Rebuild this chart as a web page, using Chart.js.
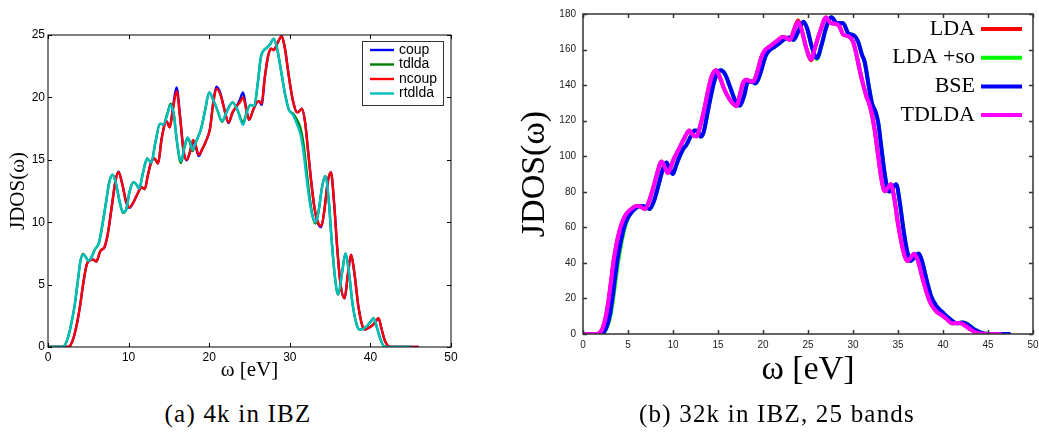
<!DOCTYPE html>
<html>
<head>
<meta charset="utf-8">
<script src="https://cdn.jsdelivr.net/npm/chart.js@4.4.0/dist/chart.umd.min.js"></script>
<style>
  body { margin: 0; background: #fff; }
  #page { position: relative; width: 1039px; height: 432px; overflow: hidden; background: #fff; }
  canvas { position: absolute; top: 0; }
  #jdos4k { left: 0; }
  #jdos32k { left: 510px; }
  .caption { position: absolute; top: 399px; font-size: 25px; letter-spacing: 1.2px; line-height: 30px;
             font-family: "Liberation Serif", "Times New Roman", serif;
             color: #000; white-space: nowrap; transform: translateX(-50%); }
</style>
</head>
<body>
<div id="page">
  <canvas id="jdos4k" width="470" height="395"></canvas>
  <canvas id="jdos32k" width="529" height="400"></canvas>
  <div class="caption" style="left:238px">(a) 4k in IBZ</div>
  <div class="caption" style="left:777px">(b) 32k in IBZ, 25 bands</div>
</div>
<script>
// ---- (a) 4k in IBZ : [omega (eV), JDOS] ----
const coup = [
  [0,0],[2.4,0],[2.8,0.15],[3.2,0.8],[3.6,1.9],[4.0,3.4],[4.4,5.2],[4.8,6.6],[5.2,6.95],[5.6,7.0],[6.0,6.85],
  [6.5,7.7],[7.0,8.0],[7.4,9.0],[7.9,11.2],[8.4,13.4],[8.75,14.05],[9.2,13.1],[9.7,11.6],[10.1,11.15],[10.6,11.6],
  [11.2,12.4],[11.6,12.8],[12.0,12.65],[12.4,13.8],[12.8,14.8],[13.2,15.1],[13.65,14.7],[14.1,16.7],[14.7,18.1],
  [15.1,17.6],[15.5,19.2],[15.95,20.8],[16.4,18.4],[16.8,15.8],[17.2,14.95],[17.6,15.6],[18.0,16.5],[18.3,16.1],
  [18.7,15.3],[19.1,15.8],[19.6,16.5],[20.1,17.5],[20.5,19.6],[20.9,20.85],[21.4,20.3],[21.9,19.0],[22.4,17.95],
  [22.9,18.8],[23.4,19.3],[23.8,19.8],[24.2,20.4],[24.6,19.1],[24.95,18.2],[25.4,18.9],[25.8,19.5],[26.2,19.7],
  [26.5,19.4],[26.9,21.6],[27.3,23.3],[27.7,23.9],[28.0,23.8],[28.5,24.4],[29.0,24.9],[29.4,23.9],[29.9,21.6],
  [30.4,19.7],[30.9,18.8],[31.2,18.9],[31.5,19.1],[31.9,18.0],[32.3,15.5],[32.7,13.0],[33.1,11.0],[33.5,9.9],
  [33.9,9.6],[34.3,11.0],[34.7,13.2],[35.1,14.0],[35.5,11.5],[35.9,7.8],[36.3,5.0],[36.8,3.9],[37.2,5.8],[37.6,7.4],
  [38.0,6.0],[38.5,3.3],[39.0,1.7],[39.35,1.4],[39.8,1.55],[40.3,1.75],[40.7,2.1],[41.0,2.3],[41.4,1.4],[41.8,0.5],
  [42.3,0.05],[43,0],[46,0]
];
const tdlda = [
  [0,0],[1.7,0],[2.1,0.15],[2.5,0.8],[2.9,1.9],[3.3,3.3],[3.7,5.3],[4.0,6.8],[4.35,7.45],[4.7,7.2],[5.0,6.9],
  [5.4,7.2],[5.8,7.8],[6.3,8.3],[6.7,9.6],[7.2,11.6],[7.6,13.2],[8.0,13.8],[8.4,13.2],[8.9,11.6],[9.3,10.75],
  [9.7,11.0],[10.1,12.4],[10.6,13.2],[11.0,13.0],[11.3,12.7],[11.8,14.0],[12.3,15.1],[12.8,14.75],[13.3,16.3],
  [13.9,17.9],[14.3,17.8],[14.8,18.7],[15.2,19.5],[15.6,18.7],[16.0,16.4],[16.5,14.75],[16.9,15.9],[17.3,16.7],
  [17.6,16.4],[17.9,15.7],[18.4,16.5],[19.0,17.5],[19.5,19.0],[20.0,20.4],[20.5,19.8],[21.0,19.0],[21.6,18.05],
  [22.2,18.9],[22.9,19.6],[23.5,19.0],[24.2,18.0],[24.7,18.9],[25.1,19.4],[25.6,19.3],[26.0,21.0],[26.4,23.2],
  [26.8,23.8],[27.2,24.0],[27.6,24.3],[28.0,24.7],[28.4,24.0],[28.9,22.2],[29.4,20.3],[29.9,19.0],[30.4,18.7],
  [30.8,18.3],[31.3,17.6],[31.7,16.3],[32.1,14.0],[32.5,11.8],[32.9,10.3],[33.2,9.9],[33.6,11.0],[34.0,12.8],
  [34.4,13.7],[34.8,12.0],[35.2,8.5],[35.6,5.6],[36.0,4.2],[36.5,6.0],[36.9,7.5],[37.3,6.2],[37.8,3.4],[38.3,1.8],
  [38.7,1.4],[39.1,1.45],[39.6,1.7],[40.0,2.0],[40.4,2.3],[40.8,1.6],[41.2,0.7],[41.7,0.05],[42.5,0],[45,0]
];
const ncoup = [
  [0,0],[2.4,0],[2.8,0.15],[3.2,0.8],[3.6,1.9],[4.0,3.4],[4.4,5.2],[4.8,6.6],[5.2,6.95],[5.6,7.0],[6.0,6.85],
  [6.5,7.7],[7.0,8.0],[7.4,9.0],[7.9,11.2],[8.4,13.4],[8.75,14.0],[9.2,13.1],[9.7,11.6],[10.1,11.2],[10.6,11.6],
  [11.2,12.4],[11.6,12.8],[12.0,12.65],[12.4,13.8],[12.8,14.8],[13.2,15.1],[13.65,14.7],[14.1,16.7],[14.7,18.1],
  [15.1,17.6],[15.5,19.0],[15.95,20.5],[16.4,18.3],[16.8,15.8],[17.2,15.0],[17.6,15.6],[18.0,16.6],[18.3,16.2],
  [18.7,15.4],[19.1,15.8],[19.6,16.5],[20.1,17.5],[20.5,19.5],[20.9,20.7],[21.4,20.2],[21.9,19.0],[22.4,18.0],
  [22.9,18.8],[23.4,19.3],[23.8,19.6],[24.2,20.0],[24.6,19.0],[24.95,18.2],[25.4,18.9],[25.8,19.5],[26.2,19.7],
  [26.5,19.5],[26.9,21.6],[27.3,23.3],[27.7,23.9],[28.0,23.8],[28.5,24.4],[29.0,24.9],[29.4,23.9],[29.9,21.6],
  [30.4,19.7],[30.9,18.8],[31.2,18.9],[31.5,19.1],[31.9,18.0],[32.3,15.5],[32.7,13.0],[33.1,11.0],[33.5,10.0],
  [33.9,9.7],[34.3,11.0],[34.7,13.2],[35.1,14.0],[35.5,11.5],[35.9,7.8],[36.3,5.0],[36.8,3.9],[37.2,5.8],[37.6,7.4],
  [38.0,6.0],[38.5,3.3],[39.0,1.7],[39.35,1.4],[39.8,1.55],[40.3,1.75],[40.7,2.1],[41.0,2.3],[41.4,1.4],[41.8,0.5],
  [42.3,0.05],[43,0],[46,0]
];
const rtdlda = [
  [0,0],[1.7,0],[2.1,0.15],[2.5,0.8],[2.9,1.9],[3.3,3.3],[3.7,5.3],[4.0,6.8],[4.35,7.4],[4.7,7.2],[5.0,6.9],
  [5.4,7.2],[5.8,7.8],[6.3,8.3],[6.7,9.6],[7.2,11.6],[7.6,13.2],[8.0,13.8],[8.4,13.2],[8.9,11.6],[9.3,10.8],
  [9.7,11.0],[10.1,12.4],[10.6,13.2],[11.0,13.0],[11.3,12.7],[11.8,14.0],[12.3,15.1],[12.8,14.75],[13.3,16.3],
  [13.9,17.9],[14.3,17.8],[14.8,18.6],[15.2,19.4],[15.6,18.7],[16.0,16.5],[16.5,14.9],[16.9,16.0],[17.3,16.8],
  [17.6,16.5],[17.9,15.8],[18.4,16.5],[19.0,17.5],[19.5,19.0],[20.0,20.4],[20.5,19.8],[21.0,19.0],[21.6,18.1],
  [22.2,18.9],[22.9,19.6],[23.5,19.0],[24.2,17.8],[24.7,18.9],[25.1,19.4],[25.6,19.3],[26.0,21.0],[26.4,23.2],
  [26.8,23.8],[27.2,24.0],[27.6,24.3],[28.0,24.7],[28.4,24.0],[28.9,22.2],[29.4,20.3],[29.9,19.0],[30.4,18.6],
  [30.8,18.0],[31.3,17.1],[31.7,15.6],[32.1,13.4],[32.5,11.5],[32.9,10.3],[33.2,10.0],[33.6,11.0],[34.0,12.8],
  [34.4,13.7],[34.8,12.0],[35.2,8.5],[35.6,5.6],[36.0,4.2],[36.5,6.0],[36.9,7.5],[37.3,6.2],[37.8,3.4],[38.3,1.8],
  [38.7,1.4],[39.1,1.45],[39.6,1.7],[40.0,2.0],[40.4,2.3],[40.8,1.6],[41.2,0.7],[41.7,0.05],[42.5,0],[45,0]
];

// ---- (b) 32k in IBZ, 25 bands ----
const lda = [
  [0,0],[1.5,0],[1.9,0.8],[2.2,3.5],[2.5,9],[2.8,17.5],[3.1,29],[3.4,41],[3.7,50],[4.0,57],[4.4,63.5],[4.8,67.5],
  [5.3,70],[5.8,71.8],[6.2,72],[6.6,71],[6.9,70.3],[7.4,75.5],[7.9,84],[8.3,91.5],[8.7,97],[9.0,95],[9.4,90.5],
  [9.7,93],[10.0,97.5],[10.6,103.5],[11.2,109.5],[11.8,114.5],[12.2,112],[12.6,111.2],[13.1,118.5],[13.5,127],
  [13.9,137],[14.3,145],[14.8,148.3],[15.2,144.5],[15.6,139],[16.0,134.5],[16.5,130.5],[17.05,128.2],[17.5,136],
  [17.8,141.5],[18.2,143],[18.6,142],[18.9,142],[19.4,148],[19.8,155.5],[20.2,159.5],[20.7,161.5],[21.2,163.5],
  [21.7,165.5],[22.2,167],[22.6,166.5],[23.0,165.5],[23.4,170.5],[23.9,176.4],[24.3,171],[24.8,161],[25.35,154],
  [25.8,161.5],[26.4,171],[27.0,178],[27.5,175],[28.1,174.5],[28.5,173],[28.9,168.5],[29.5,167.5],[30.0,164.5],
  [30.3,159],[30.6,152],[30.9,145],[31.2,139],[31.5,133.5],[31.9,128],[32.4,115],[32.8,100],[33.1,89],[33.4,81.5],
  [33.6,80.3],[33.9,82.5],[34.2,84.3],[34.6,76],[35.0,62],[35.4,51],[35.8,43],[36.1,41],[36.5,43.5],[36.8,45.2],
  [37.2,41.5],[37.7,32],[38.2,23],[38.7,16.5],[39.3,12.5],[39.9,10.5],[40.5,8],[41.0,6.0],[41.5,6.2],[42.0,6.1],
  [42.5,4.5],[43.0,2.8],[43.5,1.2],[44.1,0.3],[44.7,0],[47.5,0]
];
const ldaSo = [
  [0,0],[2.05,0],[2.35,0.8],[2.75,5],[3.05,10.5],[3.35,20],[3.65,31.5],[3.95,42.5],[4.25,51],[4.65,60],[5.0,65.3],
  [5.4,68.5],[5.9,71],[6.4,72],[6.9,71.8],[7.4,70.3],[7.9,75],[8.4,84],[8.8,91.5],[9.25,96.5],[9.6,93.5],[10.0,90],
  [10.3,94],[10.7,99.5],[11.1,103.7],[11.5,106.5],[11.9,110.5],[12.4,114.5],[12.7,114],[13.1,111],[13.4,113.5],
  [13.9,126],[14.3,136],[14.7,144],[15.3,148.3],[15.8,146],[16.3,139.5],[16.9,131.5],[17.4,128.5],[17.9,134],
  [18.3,141.5],[18.7,142],[19.2,141],[19.7,146.5],[20.3,156.5],[20.8,160],[21.3,161.5],[21.8,163.5],[22.4,166],
  [22.9,166.8],[23.4,165.5],[23.9,170],[24.5,175.7],[24.9,172],[25.4,162],[26.0,154.7],[26.5,162.5],[27.0,172],
  [27.6,178.2],[28.2,175],[28.9,174.8],[29.5,169],[30.1,168],[30.6,164],[31.0,157],[31.3,153],[31.7,141],[32.1,130],
  [32.5,125],[32.8,119],[33.1,107],[33.5,91],[33.8,82],[34.05,80.2],[34.4,82.5],[34.8,84.3],[35.2,74],[35.6,59],
  [36.0,47],[36.4,41],[36.8,43],[37.3,45.3],[37.7,40.5],[38.2,30],[38.7,21],[39.3,15.5],[39.9,12.5],[40.5,9.5],
  [41.0,7.5],[41.5,6.0],[42.1,6.5],[42.6,6.0],[43.1,4.2],[43.6,2.3],[44.2,0.9],[44.8,0.1],[45.5,0],[47.5,0]
];
const bse = [
  [0,0],[2.0,0],[2.3,0.8],[2.7,5],[3.0,11],[3.3,21],[3.6,33],[3.9,44],[4.2,52],[4.6,60.5],[5.0,65.5],[5.4,68.5],
  [5.9,71],[6.4,72],[6.9,71.8],[7.4,70.3],[7.9,75],[8.4,84],[8.8,91.5],[9.25,96.5],[9.6,93.5],[10.0,90],[10.3,94],
  [10.7,99.5],[11.1,103.7],[11.5,106.5],[11.9,110.5],[12.4,114.5],[12.7,114],[13.1,111],[13.4,113.5],[13.9,126],
  [14.3,136],[14.7,144],[15.3,148.3],[15.8,146],[16.3,139.5],[16.9,131.5],[17.4,128.5],[17.9,134],[18.3,141.5],
  [18.7,142],[19.2,141],[19.7,146.5],[20.3,156.5],[20.8,160],[21.3,161.5],[21.8,163.5],[22.4,166],[22.9,166.8],
  [23.4,165.5],[23.9,170],[24.5,175.7],[24.9,172],[25.4,162],[26.0,155.2],[26.5,162.5],[27.0,172],[27.6,178.2],
  [28.2,175],[28.9,174.8],[29.5,169],[30.1,168],[30.6,164],[31.0,157],[31.3,153],[31.7,141],[32.1,130],[32.5,125],
  [32.8,119],[33.1,107],[33.5,91],[33.8,82],[34.05,80.2],[34.4,82.5],[34.8,84.3],[35.2,74],[35.6,59],[36.0,47],
  [36.4,41],[36.8,43],[37.3,45.3],[37.7,40.5],[38.2,30],[38.7,21],[39.3,15.5],[39.9,12.5],[40.5,9.5],[41.0,7.5],
  [41.5,6.0],[42.1,6.4],[42.6,5.8],[43.1,4.0],[43.6,2.2],[44.2,0.8],[44.8,0.1],[45.5,0],[47.5,0]
];
const tdldaB = [
  [0,0],[1.5,0],[1.9,0.8],[2.2,3.5],[2.5,9],[2.8,17.5],[3.1,29],[3.4,41],[3.7,50],[4.0,57],[4.4,63.5],[4.8,67.5],
  [5.3,70],[5.8,71.8],[6.2,72],[6.6,71],[6.9,70.3],[7.4,75.5],[7.9,84],[8.3,91.5],[8.7,97],[9.0,95],[9.4,90.5],
  [9.7,93],[10.0,97.5],[10.6,103.5],[11.2,109.5],[11.8,114.5],[12.2,112],[12.6,111.2],[13.1,118.5],[13.5,127],
  [13.9,137],[14.3,145],[14.8,148.3],[15.2,144.5],[15.6,139],[16.0,134.5],[16.5,130.5],[17.05,128.2],[17.5,136],
  [17.8,141.5],[18.2,143],[18.6,142],[18.9,142],[19.4,148],[19.8,155.5],[20.2,159.5],[20.7,161.5],[21.2,163.5],
  [21.7,165.5],[22.2,167],[22.6,166.5],[23.0,165.5],[23.4,170],[23.9,175.5],[24.3,171],[24.8,161],[25.35,154.5],
  [25.8,161.5],[26.4,171],[27.0,178],[27.5,175],[28.1,174.5],[28.5,173],[28.9,168.5],[29.5,167.5],[30.0,164.5],
  [30.3,159],[30.6,152],[30.9,145],[31.2,139],[31.5,133.5],[31.9,128],[32.4,115],[32.8,100],[33.1,89],[33.4,81.5],
  [33.6,80.3],[33.9,82.5],[34.2,84.3],[34.6,76],[35.0,62],[35.4,51],[35.8,43],[36.1,41],[36.5,43.5],[36.8,45.2],
  [37.2,41.5],[37.7,32],[38.2,23],[38.7,16.5],[39.3,12.5],[39.9,10.5],[40.5,8],[41.0,6.0],[41.5,6.2],[42.0,6.1],
  [42.5,4.5],[43.0,2.8],[43.5,1.2],[44.1,0.3],[44.7,0],[46.5,0]
];

const SERIF = '"Liberation Serif", "Times New Roman", serif';
const SANS = '"Liberation Sans", Arial, Helvetica, sans-serif';

// box around the plot area with short inward ticks on all four sides
const frameTicks = {
  id: 'frameTicks',
  afterDatasetsDraw(chart, args, o) {
    const { ctx, chartArea: a, scales: { x, y } } = chart;
    ctx.save();
    ctx.strokeStyle = o.color;
    ctx.lineWidth = o.width;
    ctx.strokeRect(a.left, a.top, a.right - a.left, a.bottom - a.top);
    ctx.beginPath();
    x.ticks.forEach(t => {
      const px = Math.round(x.getPixelForValue(t.value)) + 0.5;
      ctx.moveTo(px, a.bottom); ctx.lineTo(px, a.bottom - o.len);
      ctx.moveTo(px, a.top); ctx.lineTo(px, a.top + o.len);
    });
    y.ticks.forEach(t => {
      const py = Math.round(y.getPixelForValue(t.value)) + 0.5;
      ctx.moveTo(a.left, py); ctx.lineTo(a.left + o.len, py);
      ctx.moveTo(a.right, py); ctx.lineTo(a.right - o.len, py);
    });
    ctx.stroke();
    ctx.restore();
  }
};

// framed key: sample line then label
const boxKey = {
  id: 'boxKey',
  afterDraw(chart, args, o) {
    const ctx = chart.ctx;
    ctx.save();
    ctx.fillStyle = '#fff';
    ctx.fillRect(o.x, o.y, o.w, o.h);
    ctx.strokeStyle = '#333';
    ctx.lineWidth = 1;
    ctx.strokeRect(o.x + 0.5, o.y + 0.5, o.w, o.h);
    ctx.font = o.font;
    ctx.textAlign = 'left';
    ctx.textBaseline = 'middle';
    chart.data.datasets.forEach((ds, i) => {
      const yy = o.y + o.first + i * o.step;
      ctx.strokeStyle = ds.borderColor;
      ctx.lineWidth = ds.borderWidth;
      ctx.beginPath(); ctx.moveTo(o.x + 8, yy); ctx.lineTo(o.x + 32, yy); ctx.stroke();
      ctx.fillStyle = '#000';
      ctx.fillText(ds.label, o.x + 37, yy);
    });
    ctx.restore();
  }
};

// gnuplot style key: right aligned label then sample line
const lineKey = {
  id: 'lineKey',
  afterDraw(chart, args, o) {
    const ctx = chart.ctx;
    ctx.save();
    ctx.font = o.font;
    ctx.textAlign = 'right';
    ctx.textBaseline = 'middle';
    chart.data.datasets.forEach((ds, i) => {
      const yy = o.y + i * o.step;
      ctx.fillStyle = '#000';
      ctx.fillText(ds.label, o.textRight, yy);
      ctx.strokeStyle = ds.borderColor;
      ctx.lineWidth = ds.borderWidth;
      ctx.beginPath(); ctx.moveTo(o.x1, yy); ctx.lineTo(o.x2, yy); ctx.stroke();
    });
    ctx.restore();
  }
};

function curve(label, data, color, width, order) {
  return {
    label, data, order,
    borderColor: color, backgroundColor: color, borderWidth: width,
    pointRadius: 0, fill: false, cubicInterpolationMode: 'monotone'
  };
}

new Chart(document.getElementById('jdos4k'), {
  type: 'line',
  data: {
    datasets: [
      curve('coup', coup, '#0000ff', 2.4, 4),
      curve('tdlda', tdlda, '#008000', 2.4, 3),
      curve('ncoup', ncoup, '#ff0000', 2.4, 2),
      curve('rtdlda', rtdlda, '#00bfbf', 2.4, 1)
    ]
  },
  plugins: [frameTicks, boxKey],
  options: {
    responsive: false,
    animation: false,
    layout: { padding: { top: 35, right: 19, left: 0, bottom: 0 } },
    plugins: {
      legend: { display: false },
      tooltip: { enabled: false },
      frameTicks: { color: '#000', width: 1, len: 4 },
      boxKey: { x: 362, y: 41, w: 81, h: 64, first: 9, step: 14.5, font: '14px ' + SANS }
    },
    scales: {
      x: {
        type: 'linear', min: 0, max: 50,
        afterFit: s => { s.height = 48; s.paddingLeft = 0; s.paddingRight = 0; },
        grid: { display: false, drawTicks: false }, border: { display: false },
        ticks: { stepSize: 10, padding: 3, color: '#000', font: { family: SANS, size: 12 } },
        title: { display: true, text: 'ω [eV]', color: '#000',
                 font: { family: SERIF, size: 21, lineHeight: 1 }, padding: { top: 0, bottom: 14 } }
      },
      y: {
        min: 0, max: 25,
        afterFit: s => { s.width = 48; },
        grid: { display: false, drawTicks: false }, border: { display: false },
        ticks: { stepSize: 5, padding: 3, color: '#000', font: { family: SANS, size: 12 } },
        title: { display: true, text: 'JDOS(ω)', color: '#000',
                 font: { family: SERIF, size: 21, lineHeight: 1 }, padding: { top: 8, bottom: 0 } }
      }
    }
  }
});

new Chart(document.getElementById('jdos32k'), {
  type: 'line',
  data: {
    datasets: [
      curve('LDA', lda, '#ff0000', 4, 4),
      curve('LDA +so', ldaSo, '#00ff00', 4, 3),
      curve('BSE', bse, '#0000ff', 4, 2),
      curve('TDLDA', tdldaB, '#ff00ff', 4, 1)
    ]
  },
  plugins: [frameTicks, lineKey],
  options: {
    responsive: false,
    animation: false,
    layout: { padding: { top: 14, right: 6, left: 0, bottom: 0 } },
    plugins: {
      legend: { display: false },
      tooltip: { enabled: false },
      frameTicks: { color: '#333', width: 1.5, len: 4 },
      lineKey: { y: 29, step: 28.7, textRight: 465, x1: 471, x2: 512, font: '22px ' + SERIF }
    },
    scales: {
      x: {
        type: 'linear', min: 0, max: 50,
        afterFit: s => { s.height = 66; s.paddingLeft = 0; s.paddingRight = 0; },
        grid: { display: false, drawTicks: false }, border: { display: false },
        ticks: { stepSize: 5, padding: 5, color: '#222', font: { family: SANS, size: 10 } },
        title: { display: true, text: 'ω [eV]', color: '#000',
                 font: { family: SERIF, size: 34, lineHeight: 1 }, padding: { top: 0, bottom: 13 } }
      },
      y: {
        min: 0, max: 180,
        afterFit: s => { s.width = 73; },
        grid: { display: false, drawTicks: false }, border: { display: false },
        ticks: { stepSize: 20, padding: 7, color: '#222', font: { family: SANS, size: 10 } },
        title: { display: true, text: 'JDOS(ω)', color: '#000',
                 font: { family: SERIF, size: 34, lineHeight: 1 }, padding: { top: 8, bottom: 0 } }
      }
    }
  }
});
</script>
</body>
</html>
